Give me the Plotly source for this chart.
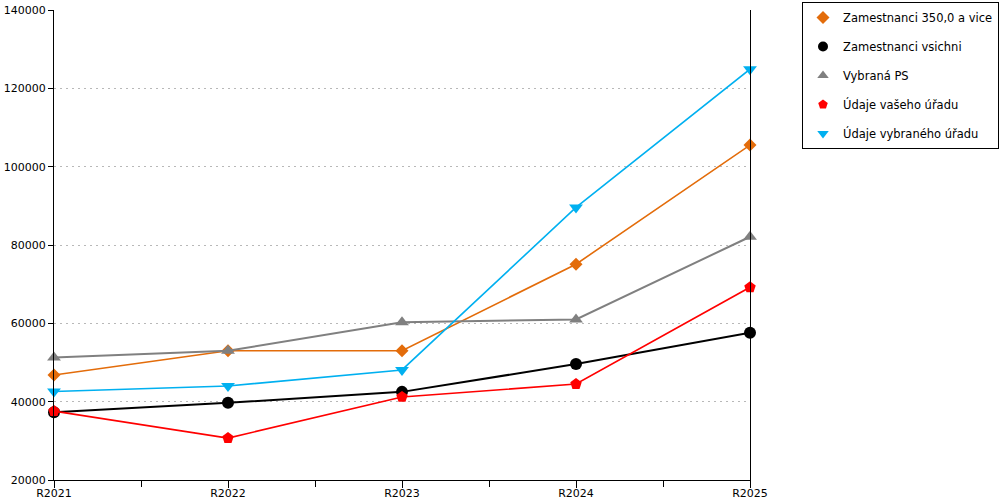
import plotly.graph_objects as go

years = ["R2021", "R2022", "R2023", "R2024", "R2025"]

zam_350 = [46800, 53000, 53000, 75100, 105500]
zam_vsichni = [37300, 39700, 42500, 49600, 57600]
vybrana_ps = [51300, 53000, 60300, 61000, 82100]
udaje_vaseho = [37600, 30700, 41200, 44500, 69200]
udaje_vybraneho = [42600, 44000, 48100, 89600, 124900]

series = [
    ("Zamestnanci 350,0 a vice", zam_350, "#E36C0A", "diamond", 10),
    ("Zamestnanci vsichni", zam_vsichni, "#000000", "circle", 12),
    ("Vybraná PS", vybrana_ps, "#808080", "triangle-up", 12),
    ("Údaje vašeho úřadu", udaje_vaseho, "#FF0000", "pentagon", 12),
    ("Údaje vybraného úřadu", udaje_vybraneho, "#00B0F0", "triangle-down", 12),
]

xs = list(range(len(years)))

fig = go.Figure()

for i, (name, vals, col, sym, sz) in enumerate(series):
    lw = 2 if col in ("#000000", "#808080") else 1.6
    fig.add_trace(go.Scatter(x=xs, y=vals, mode="lines+markers", name=name,
                             line=dict(color=col, width=lw),
                             marker=dict(color=col, symbol=sym, size=sz),
                             cliponaxis=False, showlegend=False))
    # legend entry (marker only)
    fig.add_trace(go.Scatter(x=[None], y=[None], mode="markers", name=name,
                             marker=dict(color=col, symbol=sym, size=10),
                             legendgroup="g%d" % i, showlegend=True))

fig.update_layout(
    width=1000, height=500,
    margin=dict(l=54, r=250, t=10, b=20, autoexpand=False),
    plot_bgcolor="white", paper_bgcolor="white",
    font=dict(family="DejaVu Sans", size=11, color="#000000"),
    legend=dict(xref="container", yref="container", x=0.802, y=0.996,
                xanchor="left", yanchor="top",
                bordercolor="#000000", borderwidth=1,
                font=dict(size=11.5), traceorder="grouped", tracegroupgap=10,
                itemwidth=30),
)

fig.update_xaxes(range=[0, 4], tickvals=xs, ticktext=years,
                 showgrid=False, showline=True, linecolor="#000000", linewidth=1,
                 ticks="outside", ticklen=7, tickcolor="#000000",
                 ticklabelstandoff=-4,
                 minor=dict(dtick=0.5, tick0=0, ticks="outside", ticklen=6,
                            tickcolor="#000000"),
                 zeroline=False, automargin=False)
fig.update_yaxes(range=[20000, 140000], dtick=20000, tickformat="d",
                 showgrid=True, gridcolor="#B8B8B8", griddash="2px,4px", gridwidth=1,
                 showline=True, linecolor="#000000", linewidth=1, mirror=True,
                 ticks="outside", ticklen=5, tickcolor="#000000",
                 zeroline=False, automargin=False)

# page body has a default 8px margin; drop it so the chart sits at 0,0
fig.write_html("out.html", config={"displayModeBar": False},
               post_script="document.body.style.margin='0px';")
